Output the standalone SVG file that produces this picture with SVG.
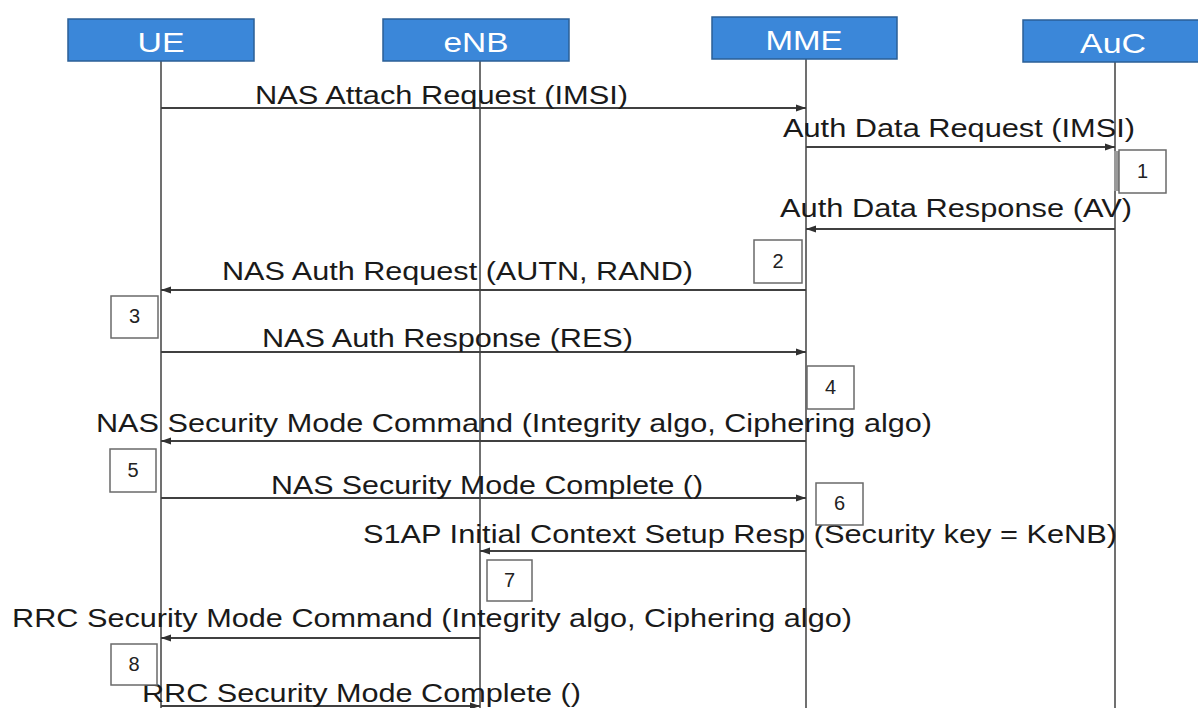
<svg xmlns="http://www.w3.org/2000/svg" width="1198" height="708" viewBox="0 0 1198 708">
<style>
.hdr{fill:#3b87d9;stroke:#2b5f96;stroke-width:1.5}
.htxt{font-family:"Liberation Sans",Arial,sans-serif;font-size:28px;fill:#ffffff;text-anchor:middle}
.life{stroke:#707070;stroke-width:2;fill:none}
.msg{stroke:#404040;stroke-width:2;fill:none;marker-end:url(#ah)}
.lbl{font-family:"Liberation Sans",Arial,sans-serif;font-size:26px;fill:#1a1a1a}
.nbox{fill:#ffffff;stroke:#6a6a6a;stroke-width:1.5}
.ntxt{font-family:"Liberation Sans",Arial,sans-serif;font-size:20px;fill:#222;text-anchor:middle}
</style>
<defs>
<marker id="ah" markerUnits="userSpaceOnUse" markerWidth="11" markerHeight="8" refX="10" refY="4" orient="auto">
<path d="M0,0.5 L10,4 L0,7.5 z" fill="#303030"/>
</marker>
</defs>
<rect width="1198" height="708" fill="#ffffff"/>
<g id="lifelines">
<line class="life" x1="161" y1="61" x2="161" y2="708"/>
<line class="life" x1="480" y1="61" x2="480" y2="708"/>
<line class="life" x1="806" y1="59" x2="806" y2="708"/>
<line class="life" x1="1115" y1="62" x2="1115" y2="708"/>
<rect x="1114" y="151" width="5" height="40" fill="#9a9a9a"/>
</g>
<g id="node-UE">
<rect class="hdr" x="68" y="19" width="186" height="42"/>
<text class="htxt" x="161" y="52" textLength="47" lengthAdjust="spacingAndGlyphs">UE</text>
</g>
<g id="node-eNB">
<rect class="hdr" x="383" y="19" width="186" height="42"/>
<text class="htxt" x="476" y="52" textLength="65" lengthAdjust="spacingAndGlyphs">eNB</text>
</g>
<g id="node-MME">
<rect class="hdr" x="712" y="17" width="185" height="42"/>
<text class="htxt" x="804" y="50" textLength="77" lengthAdjust="spacingAndGlyphs">MME</text>
</g>
<g id="node-AuC">
<rect class="hdr" x="1023" y="20" width="186" height="42"/>
<text class="htxt" x="1113" y="53" textLength="66" lengthAdjust="spacingAndGlyphs">AuC</text>
</g>
<g id="connectors">
<line class="msg" x1="161" y1="108" x2="806" y2="108"/>
<line class="msg" x1="806" y1="147" x2="1115" y2="147"/>
<line class="msg" x1="1115" y1="229" x2="806" y2="229"/>
<line class="msg" x1="806" y1="290" x2="161" y2="290"/>
<line class="msg" x1="161" y1="352" x2="806" y2="352"/>
<line class="msg" x1="806" y1="441" x2="161" y2="441"/>
<line class="msg" x1="161" y1="498" x2="806" y2="498"/>
<line class="msg" x1="806" y1="551" x2="480" y2="551"/>
<line class="msg" x1="480" y1="638" x2="161" y2="638"/>
<line class="msg" x1="161" y1="706" x2="480" y2="706"/>
</g>
<g id="labels">
<text class="lbl" x="255" y="104" textLength="373" lengthAdjust="spacingAndGlyphs">NAS Attach Request (IMSI)</text>
<text class="lbl" x="783" y="137" textLength="352" lengthAdjust="spacingAndGlyphs">Auth Data Request (IMSI)</text>
<text class="lbl" x="780" y="217" textLength="352" lengthAdjust="spacingAndGlyphs">Auth Data Response (AV)</text>
<text class="lbl" x="222" y="280" textLength="471" lengthAdjust="spacingAndGlyphs">NAS Auth Request (AUTN, RAND)</text>
<text class="lbl" x="262" y="347" textLength="371" lengthAdjust="spacingAndGlyphs">NAS Auth Response (RES)</text>
<text class="lbl" x="96" y="432" textLength="836" lengthAdjust="spacingAndGlyphs">NAS Security Mode Command (Integrity algo, Ciphering algo)</text>
<text class="lbl" x="271" y="494" textLength="432" lengthAdjust="spacingAndGlyphs">NAS Security Mode Complete ()</text>
<text class="lbl" x="363" y="543" textLength="754" lengthAdjust="spacingAndGlyphs">S1AP Initial Context Setup Resp (Security key = KeNB)</text>
<text class="lbl" x="12" y="627" textLength="840" lengthAdjust="spacingAndGlyphs">RRC Security Mode Command (Integrity algo, Ciphering algo)</text>
<text class="lbl" x="142" y="702" textLength="439" lengthAdjust="spacingAndGlyphs">RRC Security Mode Complete ()</text>
</g>
<g id="step-1"><rect class="nbox" x="1119" y="150" width="47" height="43"/><text class="ntxt" x="1142.5" y="178">1</text></g>
<g id="step-2"><rect class="nbox" x="754" y="240" width="48" height="43"/><text class="ntxt" x="778" y="268">2</text></g>
<g id="step-3"><rect class="nbox" x="111" y="296" width="47" height="42"/><text class="ntxt" x="134.5" y="323">3</text></g>
<g id="step-4"><rect class="nbox" x="807" y="366" width="47" height="43"/><text class="ntxt" x="830.5" y="394">4</text></g>
<g id="step-5"><rect class="nbox" x="110" y="449" width="46" height="43"/><text class="ntxt" x="133" y="477">5</text></g>
<g id="step-6"><rect class="nbox" x="816" y="483" width="47" height="42"/><text class="ntxt" x="839.5" y="510">6</text></g>
<g id="step-7"><rect class="nbox" x="487" y="560" width="45" height="41"/><text class="ntxt" x="509.5" y="587">7</text></g>
<g id="step-8"><rect class="nbox" x="111" y="644" width="46" height="41"/><text class="ntxt" x="134" y="671">8</text></g>
</svg>
